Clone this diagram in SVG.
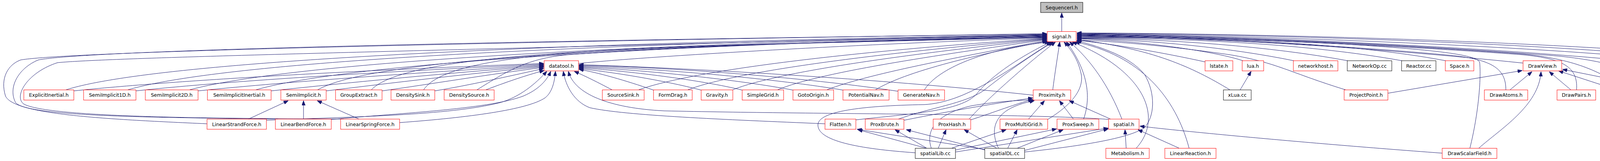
<svg xmlns="http://www.w3.org/2000/svg" width="4590" height="411" viewBox="0 0 4590 411">
<style>
.n rect{fill:#ffffff;stroke:#ff0000;stroke-width:1}
.k rect{fill:#ffffff;stroke:#000000;stroke-width:1}
.g rect{fill:#bfbfbf;stroke:#000000;stroke-width:1}
text{font-family:"DejaVu Sans","Liberation Sans",sans-serif;font-size:12.5px;text-anchor:middle;fill:#000000}
#edges path{fill:none;stroke:#191970;stroke-width:1;marker-end:url(#a)}
</style>
<defs>
<marker id="a" viewBox="0 0 12 9" refX="12" refY="4.5" markerWidth="12" markerHeight="9" markerUnits="userSpaceOnUse" orient="auto"><path d="M0,0 L12,4.5 L0,9 z" fill="#191970" stroke="#191970" stroke-width="1"/></marker>
</defs>
<rect x="0" y="0" width="4590" height="411" fill="#ffffff"/>
<g id="edges">
<path d="M2718,80.5 L2718,33"/>
<path d="M530,316 C260,304 35,292 14,245 C0,200 20,165 53,153 C200,128 1600,102 2680,86"/>
<path d="M712,304 C450,300 70,300 40,262 C20,225 45,175 98,153 C250,124 1600,100 2680,87"/>
<path d="M880,304 C600,302 120,302 60,265 C35,245 70,185 147,160 C300,145 1300,125 2680,88"/>
<path d="M167,230 C380,160 1300,110 2680,89"/>
<path d="M325,230 C560,160 1400,112 2680,90"/>
<path d="M483,230 C720,165 1500,114 2680,91"/>
<path d="M653,230 C860,168 1600,116 2680,92"/>
<path d="M812,230 C950,150 1600,118 2680,93"/>
<path d="M950,230 C1050,120 1800,120 2680,94"/>
<path d="M1084,230 C1160,110 1800,120 2680,95"/>
<path d="M1220,230 C1300,180 1350,150 1450,140 C1800,115 2300,100 2680,96"/>
<path d="M1481,162 C1700,140 2300,108 2680,97"/>
<path d="M1633,230 C1800,170 2300,122 2680,98"/>
<path d="M1759,230 C1900,175 2350,126 2680,99"/>
<path d="M1874,230 C2000,178 2400,130 2680,100"/>
<path d="M1989,230 C2100,182 2450,134 2680,101"/>
<path d="M2115,230 C2230,185 2500,138 2680,103"/>
<path d="M2240,230 C2330,175 2550,130 2681,105"/>
<path d="M2366,230 C2400,175 2520,125 2686,107"/>
<path d="M2191,306 C2330,290 2460,285 2500,240 C2540,190 2620,140 2690,107"/>
<path d="M2343,390 C2200,380 2090,360 2094,317 C2098,285 2200,270 2366,267 C2470,262 2580,180 2693,107"/>
<path d="M2300,304 C2380,275 2470,265 2520,230 C2570,190 2640,140 2697,107"/>
<path d="M2481,304 C2520,260 2620,170 2702,107"/>
<path d="M2695,230 C2700,190 2708,140 2713,107"/>
<path d="M2682,305 C2740,270 2775,230 2768,190 C2760,150 2740,125 2724,107"/>
<path d="M2774,304 C2800,230 2770,160 2730,107"/>
<path d="M2872,304 C2840,220 2790,150 2738,107"/>
<path d="M2909,378 C2980,300 2930,180 2745,107"/>
<path d="M3044,378 C3010,250 2920,140 2752,107"/>
<path d="M2623,388 C2780,372 2900,350 2930,325 C2955,300 2960,240 2930,190 C2890,140 2800,115 2756,104"/>
<path d="M3085,158 C2980,135 2850,112 2757,103"/>
<path d="M3182,155 C3100,128 2900,103 2757,99"/>
<path d="M3148,229 C3050,170 2950,125 2757,101"/>
<path d="M3312,155 C3150,122 2950,102 2757,98"/>
<path d="M3450,155 C3250,118 3000,100 2757,97"/>
<path d="M3589,155 C3350,112 3050,98 2757,96"/>
<path d="M3701,155 C3450,108 3100,96 2757,95"/>
<path d="M3447,230 C3300,185 3270,160 3150,140 C3000,118 2850,105 2757,102"/>
<path d="M3899,161 C3500,120 3100,96 2757,93"/>
<path d="M3855,229 C3855,175 3820,150 3700,140 C3400,112 3000,95 2757,92"/>
<path d="M3763,378 C3785,290 3792,200 3788,160 C3785,138 3650,125 3400,110 C3100,98 2900,93 2757,91"/>
<path d="M4036,229 C4040,170 4000,150 3900,140 C3500,110 3000,93 2757,90"/>
<path d="M4160,229 C4100,180 4020,150 3900,138 C3500,108 3000,92 2757,89"/>
<path d="M4283,229 C4200,180 4100,150 3950,140 C3500,106 3000,90 2757,88"/>
<path d="M4176,156 C3800,120 3200,92 2757,87"/>
<path d="M4311,156 C3900,115 3200,90 2757,86"/>
<path d="M4410,156 C4000,112 3300,88 2757,85"/>
<path d="M4515,156 C4100,110 3300,86 2757,84"/>
<path d="M189,232 C450,205 900,180 1392,162"/>
<path d="M348,232 C600,205 1000,182 1392,164"/>
<path d="M507,232 C750,207 1100,184 1392,166"/>
<path d="M694,232 C900,210 1150,186 1392,168"/>
<path d="M835,232 C1000,212 1200,188 1392,170"/>
<path d="M978,232 C1100,215 1250,190 1392,172"/>
<path d="M1113,232 C1200,218 1300,195 1392,175"/>
<path d="M1242,230 C1290,212 1340,194 1393,180"/>
<path d="M682,307 C900,298 1150,295 1280,262 C1330,248 1370,215 1400,182"/>
<path d="M848,305 C1000,290 1250,280 1340,245 C1380,228 1400,205 1410,182"/>
<path d="M1023,313 C1200,300 1350,280 1395,250 C1415,235 1420,205 1422,182"/>
<path d="M2112,316 C1850,305 1600,295 1510,275 C1470,260 1448,220 1442,182"/>
<path d="M2840,305 C2650,290 2100,292 1700,283 C1560,276 1470,240 1455,182"/>
<path d="M1568,230 C1530,210 1500,195 1470,182"/>
<path d="M1673,230 C1600,205 1530,185 1482,177"/>
<path d="M1795,230 C1700,205 1560,183 1482,175"/>
<path d="M1900,230 C1800,205 1600,180 1482,173"/>
<path d="M2030,230 C1900,205 1650,178 1482,171"/>
<path d="M2158,230 C2000,203 1700,175 1482,169"/>
<path d="M2299,233 C2100,203 1750,172 1482,167"/>
<path d="M2645,243 C2300,205 1800,175 1482,165"/>
<path d="M636,304 L738,257"/>
<path d="M777,304 L777,257"/>
<path d="M919,304 L812,257"/>
<path d="M2314,307 C2450,280 2560,262 2644,250"/>
<path d="M2485,306 C2550,285 2600,265 2644,254"/>
<path d="M2633,304 L2674,257"/>
<path d="M2748,304 L2712,257"/>
<path d="M2843,304 L2737,257"/>
<path d="M2384,378 C2368,330 2400,290 2487,270 C2560,258 2610,256 2646,255"/>
<path d="M2556,378 C2538,340 2540,300 2590,275 C2615,263 2635,260 2648,257"/>
<path d="M2370,378 L2196,331"/>
<path d="M2525,382 L2194,330"/>
<path d="M2372,378 L2291,331"/>
<path d="M2522,383 L2320,331"/>
<path d="M2402,378 L2422,331"/>
<path d="M2551,378 L2468,331"/>
<path d="M2437,378 L2576,331"/>
<path d="M2580,378 L2604,331"/>
<path d="M2446,383 L2705,329"/>
<path d="M2605,378 L2722,331"/>
<path d="M2446,388 L2837,327"/>
<path d="M2623,384 L2837,329"/>
<path d="M2883,378 L2880,331"/>
<path d="M3018,378 L2913,331"/>
<path d="M3692,391 C3300,362 3000,332 2918,322"/>
<path d="M3175,229 L3203,182"/>
<path d="M3553,238 L3897,180"/>
<path d="M3866,229 L3922,183"/>
<path d="M3786,378 C3840,330 3940,270 3945,183"/>
<path d="M4021,229 L3966,183"/>
<path d="M4138,229 L3990,181"/>
<path d="M4265,230 L4000,177"/>
</g>
<g id="n-sequencer" class="g"><rect x="2664" y="6" width="108" height="26"/><text x="2718" y="23.5">SequencerI.h</text></g>
<g id="n-signal" class="n"><rect x="2681" y="80.5" width="74" height="26"/><text x="2718" y="98">signal.h</text></g>
<g id="n-datatool" class="n"><rect x="1393" y="155" width="88" height="26"/><text x="1437" y="172.5">datatool.h</text></g>
<g id="n-lstate" class="n"><rect x="3085" y="155" width="71" height="26"/><text x="3120.5" y="172.5">lstate.h</text></g>
<g id="n-lua" class="n"><rect x="3180" y="155" width="55" height="26"/><text x="3207.5" y="172.5">lua.h</text></g>
<g id="n-networkhost" class="n"><rect x="3311" y="155" width="114" height="26"/><text x="3368" y="172.5">networkhost.h</text></g>
<g id="n-networkop" class="k"><rect x="3449" y="155" width="114" height="26"/><text x="3506" y="172.5">NetworkOp.cc</text></g>
<g id="n-reactor" class="k"><rect x="3588" y="155" width="88" height="26"/><text x="3632" y="172.5">Reactor.cc</text></g>
<g id="n-space" class="n"><rect x="3700" y="155" width="73" height="26"/><text x="3736.5" y="172.5">Space.h</text></g>
<g id="n-drawview" class="n"><rect x="3899" y="155" width="99" height="26"/><text x="3948.5" y="172.5">DrawView.h</text></g>
<g id="n-architecture" class="n"><rect x="4175" y="155" width="111" height="26"/><text x="4230.5" y="172.5">architecture.h</text></g>
<g id="n-griddb" class="n"><rect x="4310" y="155" width="75" height="26"/><text x="4347.5" y="172.5">griddb.h</text></g>
<g id="n-mitosis" class="n"><rect x="4409" y="155" width="80" height="26"/><text x="4449" y="172.5">Mitosis.h</text></g>
<g id="n-group" class="n"><rect x="4514" y="155" width="70" height="26"/><text x="4549" y="172.5">group.h</text></g>
<g id="n-explicitinertial" class="n"><rect x="61" y="229.5" width="128" height="26"/><text x="125" y="247">ExplicitInertial.h</text></g>
<g id="n-semiimplicit1d" class="n"><rect x="214" y="229.5" width="134" height="26"/><text x="281" y="247">SemiImplicit1D.h</text></g>
<g id="n-semiimplicit2d" class="n"><rect x="372" y="229.5" width="135" height="26"/><text x="439.5" y="247">SemiImplicit2D.h</text></g>
<g id="n-semiimplicitinertial" class="n"><rect x="531" y="229.5" width="163" height="26"/><text x="612.5" y="247">SemiImplicitInertial.h</text></g>
<g id="n-semiimplicit" class="n"><rect x="719" y="229.5" width="116" height="26"/><text x="777" y="247">SemiImplicit.h</text></g>
<g id="n-groupextract" class="n"><rect x="859" y="229.5" width="119" height="26"/><text x="918.5" y="247">GroupExtract.h</text></g>
<g id="n-densitysink" class="n"><rect x="1001" y="229.5" width="112" height="26"/><text x="1057" y="247">DensitySink.h</text></g>
<g id="n-densitysource" class="n"><rect x="1137" y="229.5" width="128" height="26"/><text x="1201" y="247">DensitySource.h</text></g>
<g id="n-sourcesink" class="n"><rect x="1542" y="229.5" width="107" height="26"/><text x="1595.5" y="247">SourceSink.h</text></g>
<g id="n-formdrag" class="n"><rect x="1673" y="229.5" width="99" height="26"/><text x="1722.5" y="247">FormDrag.h</text></g>
<g id="n-gravity" class="n"><rect x="1795" y="229.5" width="81" height="26"/><text x="1835.5" y="247">Gravity.h</text></g>
<g id="n-simplegrid" class="n"><rect x="1900" y="229.5" width="106" height="26"/><text x="1953" y="247">SimpleGrid.h</text></g>
<g id="n-gotoorigin" class="n"><rect x="2030" y="229.5" width="104" height="26"/><text x="2082" y="247">GotoOrigin.h</text></g>
<g id="n-potentialnav" class="n"><rect x="2158" y="229.5" width="118" height="26"/><text x="2217" y="247">PotentialNav.h</text></g>
<g id="n-generatenav" class="n"><rect x="2299" y="229.5" width="119" height="26"/><text x="2358.5" y="247">GenerateNav.h</text></g>
<g id="n-proximity" class="n"><rect x="2645" y="229.5" width="96" height="26"/><text x="2693" y="247">Proximity.h</text></g>
<g id="n-xlua" class="k"><rect x="3132" y="229.5" width="71" height="26"/><text x="3167.5" y="247">xLua.cc</text></g>
<g id="n-projectpoint" class="n"><rect x="3441" y="229.5" width="112" height="26"/><text x="3497" y="247">ProjectPoint.h</text></g>
<g id="n-drawatoms" class="n"><rect x="3800" y="229.5" width="111" height="26"/><text x="3855.5" y="247">DrawAtoms.h</text></g>
<g id="n-drawpairs" class="n"><rect x="3986" y="229.5" width="99" height="26"/><text x="4035.5" y="247">DrawPairs.h</text></g>
<g id="n-drawtransform" class="n"><rect x="4109" y="229.5" width="133" height="26"/><text x="4175.5" y="247">DrawTransform.h</text></g>
<g id="n-drawpick" class="n"><rect x="4267" y="229.5" width="95" height="26"/><text x="4314.5" y="247">DrawPick.h</text></g>
<g id="n-linearstrandforce" class="n"><rect x="530" y="304" width="152" height="26"/><text x="606" y="321.5">LinearStrandForce.h</text></g>
<g id="n-linearbendforce" class="n"><rect x="705" y="304" width="143" height="26"/><text x="776.5" y="321.5">LinearBendForce.h</text></g>
<g id="n-linearspringforce" class="n"><rect x="872" y="304" width="151" height="26"/><text x="947.5" y="321.5">LinearSpringForce.h</text></g>
<g id="n-flatten" class="n"><rect x="2112" y="304" width="79" height="26"/><text x="2151.5" y="321.5">Flatten.h</text></g>
<g id="n-proxbrute" class="n"><rect x="2215" y="304" width="99" height="26"/><text x="2264.5" y="321.5">ProxBrute.h</text></g>
<g id="n-proxhash" class="n"><rect x="2389" y="304" width="96" height="26"/><text x="2437" y="321.5">ProxHash.h</text></g>
<g id="n-proxmultigrid" class="n"><rect x="2560" y="304" width="122" height="26"/><text x="2621" y="321.5">ProxMultiGrid.h</text></g>
<g id="n-proxsweep" class="n"><rect x="2706" y="304" width="107" height="26"/><text x="2759.5" y="321.5">ProxSweep.h</text></g>
<g id="n-spatial" class="n"><rect x="2838" y="304" width="78" height="26"/><text x="2877" y="321.5">spatial.h</text></g>
<g id="n-spatiallib" class="k"><rect x="2343" y="378.5" width="103" height="26"/><text x="2394.5" y="396">spatialLib.cc</text></g>
<g id="n-spatialdl" class="k"><rect x="2521" y="378.5" width="102" height="26"/><text x="2572" y="396">spatialDL.cc</text></g>
<g id="n-metabolism" class="n"><rect x="2831" y="378.5" width="111" height="26"/><text x="2886.5" y="396">Metabolism.h</text></g>
<g id="n-linearreaction" class="n"><rect x="2982" y="378.5" width="131" height="26"/><text x="3047.5" y="396">LinearReaction.h</text></g>
<g id="n-drawscalarfield" class="n"><rect x="3692" y="378.5" width="140" height="26"/><text x="3762" y="396">DrawScalarField.h</text></g>
</svg>
